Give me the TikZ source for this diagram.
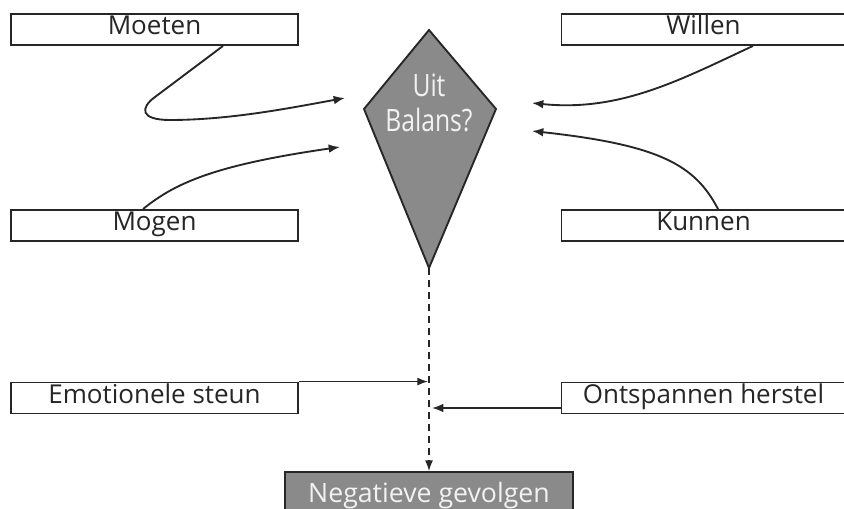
\documentclass[tikz,border=0pt]{standalone}
\usepackage{fontspec}
\setmainfont{Open Sans}
\usepackage{tikz}
\usetikzlibrary{arrows.meta, positioning, calc}

\definecolor{lijn}{HTML}{262626}
\definecolor{vulgrijs}{HTML}{8A8A8A}
\definecolor{tekstwit}{HTML}{F2F2F2}

\tikzset{
  kader/.style={draw=lijn, line width=1.4pt, fill=white, rectangle, inner sep=0pt,
    minimum height=23.25pt, text height=8pt, text depth=0pt,
    font=\fontsize{19.5}{22}\selectfont, text=lijn},
  grijskader/.style={kader, fill=vulgrijs, text=tekstwit, minimum height=37.5pt,
    font=\fontsize{20}{23}\selectfont},
  pijl/.style={-{Latex[length=8.5pt,width=6.5pt]}, line width=1.4pt, draw=lijn},
  dunpijl/.style={-{Latex[length=8pt,width=6pt]}, line width=1.1pt, draw=lijn},
  stippel/.style={dunpijl, dash pattern=on 5.5pt off 3.5pt}
}

\begin{document}
\begin{tikzpicture}[x=0.75pt, y=-0.75pt]
  \useasboundingbox (0,0) rectangle (844,509);

  % kaders
  \node[kader, minimum width=215.25pt] (moeten) at (154.5,29.5) {Moeten};
  \node[kader, minimum width=213pt]    (willen) at (703.5,29.5) {Willen};
  \node[kader, minimum width=215.25pt] (mogen)  at (154.5,225.5) {Mogen};
  \node[kader, minimum width=213pt]    (kunnen) at (703.5,225.5) {Kunnen};
  \node[kader, minimum width=215.25pt] (emotie) at (154.5,398) {Emotionele steun};
  \node[kader, minimum width=213pt]    (herstel) at (703.5,398) {Ontspannen herstel};
  \node[grijskader, minimum width=216pt] (gevolgen) at (429,497) {Negatieve gevolgen};

  % vlieger
  \coordinate (boven) at (429,30);
  \coordinate (links) at (364,109);
  \coordinate (rechts) at (496,109);
  \coordinate (onder) at (429,268);
  \draw[draw=lijn, line width=1.4pt, fill=vulgrijs]
    (boven) -- (rechts) -- (onder) -- (links) -- cycle;
  \node[align=center, text=tekstwit, font=\fontsize{18.5}{26}\selectfont] (balans) at (429,103)
    {\scalebox{1}[1.25]{Uit}\\\scalebox{1}[1.25]{Balans?}};

  % vrije eindpunten
  \coordinate (inmoeten) at (345,98);
  \coordinate (inmogen)  at (340,147);
  \coordinate (inwillen) at (532,103);
  \coordinate (inkunnen) at (532,131);
  \coordinate (inemotie) at (428,383);
  \coordinate (inherstel) at (432,408);

  \draw[pijl] ([xshift=51.4pt]moeten.south) -- (155,97)
    .. controls (140,108) and (140,120) .. (170,120)
    .. controls (230,120) and (290,108) .. (inmoeten);
  \draw[pijl] ([xshift=-8.6pt]mogen.north)
    .. controls (175,183) and (215,165) .. (inmogen);
  \draw[pijl] ([xshift=37.1pt]willen.south)
    .. controls (680,80) and (620,112) .. (inwillen);
  \draw[pijl] ([xshift=10.9pt]kunnen.north)
    .. controls (695,165) and (660,145) .. (inkunnen);

  \draw[stippel] (onder) -- (gevolgen.north);
  \draw[dunpijl] (emotie.north east) -- (emotie.north east -| inemotie);
  \draw[pijl] ([yshift=-7.5pt]herstel.west) -- (inherstel);
\end{tikzpicture}
\end{document}
